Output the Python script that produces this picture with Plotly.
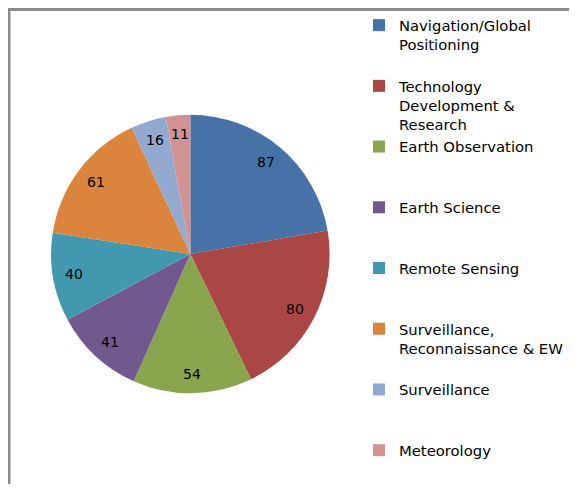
import math
import plotly.graph_objects as go

categories = [
    "Navigation/Global<br>Positioning<br>\u00a0",
    "Technology<br>Development &<br>Research",
    "Earth Observation<br>\u00a0<br>\u00a0",
    "Earth Science<br>\u00a0<br>\u00a0",
    "Remote Sensing<br>\u00a0<br>\u00a0",
    "Surveillance,<br>Reconnaissance & EW<br>\u00a0",
    "Surveillance<br>\u00a0<br>\u00a0",
    "Meteorology",
]
values = [87, 80, 54, 41, 40, 61, 16, 11]
colors = ["#4672A8", "#AA4643", "#89A54E", "#71588F", "#4198AF", "#DB843D", "#93A9CF", "#D19392"]

# figure sized to fit inside the page body (8px margin) so no scrollbars appear
W, H = 561, 476
cx, cy, r = 186, 246, 142       # pie centre / radius in figure pixels
label_r = 120                    # radius at which value labels sit

fig = go.Figure(go.Pie(
    labels=categories,
    values=values,
    sort=False,
    direction="clockwise",
    rotation=0,
    marker=dict(colors=colors, line=dict(width=0)),
    textinfo="none",
    hoverinfo="value+percent",
    domain=dict(x=[(cx - r) / W, (cx + r) / W], y=[(H - cy - r) / H, (H - cy + r) / H]),
))

# value labels placed along each slice's mid-angle (derived from the data)
total = sum(values)
annotations = []
cum = 0
for v in values:
    theta = 2 * math.pi * (cum + v / 2) / total
    cum += v
    fx = cx + label_r * math.sin(theta)
    fy = cy - label_r * math.cos(theta)
    annotations.append(dict(
        x=fx / W, y=1 - fy / H, xref="paper", yref="paper",
        text=str(v), showarrow=False, xanchor="center", yanchor="middle",
        font=dict(family="DejaVu Sans", size=14, color="black"),
    ))

fig.update_layout(
    width=W, height=H,
    margin=dict(l=0, r=0, t=0, b=0),
    paper_bgcolor="white",
    font=dict(family="DejaVu Sans", size=14.8, color="black"),
    showlegend=True,
    legend=dict(x=358 / W, xanchor="left", y=1 - 1 / H, yanchor="top",
                valign="top", traceorder="normal", font=dict(size=14.8),
                bgcolor="rgba(0,0,0,0)"),
    annotations=annotations,
    shapes=[dict(type="path", xref="paper", yref="paper",
                 path=f"M {1.0 / W},-0.1 L {1.0 / W},{1 - 1.5 / H} L 1.1,{1 - 1.5 / H}",
                 line=dict(color="#8C8C8C", width=3), layer="above")],
)

fig.write_html("out.html")
